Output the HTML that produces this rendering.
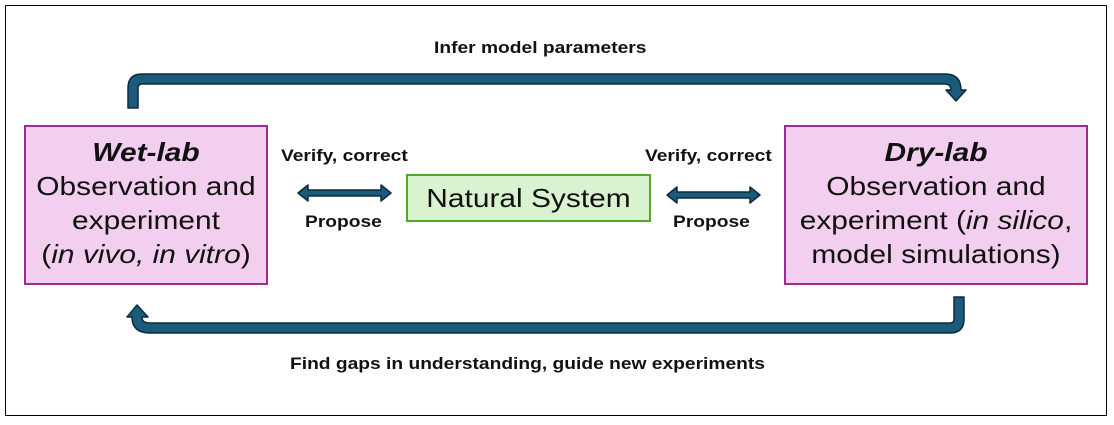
<!DOCTYPE html>
<html><head><style>
body{margin:0;width:1114px;height:425px;background:#fff;position:relative;font-family:"Liberation Sans",sans-serif;overflow:hidden}
.frame{position:absolute;left:5px;top:5px;width:1102px;height:411px;border:1.5px solid #000;box-sizing:border-box}
.box{position:absolute;background:#f2cfee;border:2px solid #a02b93;box-sizing:border-box;text-align:center;font-size:26px;line-height:34px;color:#111}
.box div{transform:scaleX(1.15);white-space:nowrap}
.lbl{position:absolute;font-weight:bold;font-size:17px;color:#111;white-space:nowrap;transform:scaleX(1.13);transform-origin:left top}
</style></head><body>
<div class="frame"></div>
<svg width="1114" height="425" style="position:absolute;left:0;top:0">
<g fill="#1a5a7a" stroke="#0e2a3a" stroke-width="1.5" stroke-linejoin="round">
<path d="M128 108 L128 88 Q128 74 142 74 L945 74 Q961 74 961 90 L966 90 L956 101 L946 90 L951 90 Q951 84 945 84 L142 84 Q138 84 138 88 L138 108 Z"/>
<path d="M964 297 L964 319 Q964 333 950 333 L150 333 Q132 333 132 317 L127 317 L137 305 L148 317 L142 317 Q142 323 150 323 L950 323 Q954 323 954 319 L954 297 Z"/>
<path d="M298 193 L308 185 L308 190 L381 190 L381 185 L391 193 L381 201 L381 196 L308 196 L308 201 Z"/>
<path d="M667 195 L677 187 L677 192 L750 192 L750 187 L760 195 L750 203 L750 198 L677 198 L677 203 Z"/>
</g>
</svg>
<div class="box" style="left:24px;top:125px;width:244px;height:160px;padding-top:8px"><div><b><i>Wet-lab</i></b></div><div>Observation and</div><div>experiment</div><div>(<i>in vivo, in vitro</i>)</div></div>
<div class="box" style="left:784px;top:125px;width:304px;height:160px;padding-top:8px"><div><b><i>Dry-lab</i></b></div><div>Observation and</div><div>experiment (<i>in silico</i>,</div><div>model simulations)</div></div>
<div style="position:absolute;left:406px;top:174px;width:245px;height:48px;background:#d9f2d0;border:2px solid #4ea72e;box-sizing:border-box;text-align:center;font-size:26px;line-height:44px;color:#111"><div style="transform:scaleX(1.15)">Natural System</div></div>
<div class="lbl" style="left:434px;top:38px">Infer model parameters</div>
<div class="lbl" style="left:281px;top:146px">Verify, correct</div>
<div class="lbl" style="left:305px;top:212px">Propose</div>
<div class="lbl" style="left:645px;top:146px">Verify, correct</div>
<div class="lbl" style="left:673px;top:212px">Propose</div>
<div class="lbl" style="left:290px;top:354px">Find gaps in understanding, guide new experiments</div>
</body></html>
